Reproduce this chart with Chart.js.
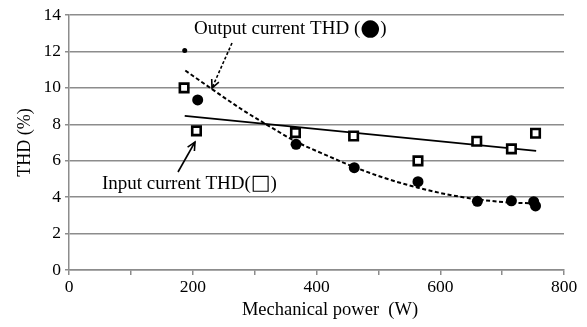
<!DOCTYPE html>
<html>
<head>
<meta charset="utf-8">
<script src="https://cdn.jsdelivr.net/npm/chart.js@4.4.0/dist/chart.umd.min.js"></script>
<style>
  html, body { margin: 0; padding: 0; background: #fff; }
  #wrap { width: 587px; height: 327px; }
</style>
</head>
<body>
<div id="wrap"><canvas id="thdChart" width="587" height="327"></canvas></div>
<script>
// input current THD (squares)
const inputPower = [186, 206, 366, 460, 564, 659, 715, 754]
const inputThd = [10.0, 7.64, 7.54, 7.36, 5.99, 7.07, 6.65, 7.51]

// output current THD (circles), first one is the small dot
const outputPower = [187, 208, 367, 461, 564, 660, 715, 751, 754]
const outputThd = [12.05, 9.34, 6.9, 5.62, 4.85, 3.77, 3.8, 3.75, 3.52]

// trend lines
const inputTrendPower = [187, 755]
const inputTrendThd = [8.46, 6.54]
const outputTrendPower = [188, 229, 280, 319, 367, 420, 459, 510, 564, 610, 660, 710, 750]
const outputTrendThd = [10.95, 9.98, 8.8, 7.99, 7.05, 6.24, 5.68, 5.05, 4.52, 4.16, 3.88, 3.71, 3.66]

const xTicks = [0, 200, 400, 600, 800]
const yTicks = [0, 2, 4, 6, 8, 10, 12, 14]

const labelFont = '"Liberation Serif", "Times New Roman", serif'
const gridGray = '#8c8c8c'

function toPoints(xs, ys){
    return xs.map((x, i) => ({x: x, y: ys[i]}))
}

function arrow(ctx, x1, y1, x2, y2, dashed){
    ctx.save()
    ctx.strokeStyle = '#000'
    ctx.lineWidth = 1.6
    if(dashed) ctx.setLineDash([3, 2])
    ctx.beginPath()
    ctx.moveTo(x1, y1)
    ctx.lineTo(x2, y2)
    ctx.stroke()
    ctx.setLineDash([])
    let a = Math.atan2(y2 - y1, x2 - x1)
    let len = 9
    ctx.beginPath()
    ctx.moveTo(x2 - len * Math.cos(a - 0.45), y2 - len * Math.sin(a - 0.45))
    ctx.lineTo(x2, y2)
    ctx.lineTo(x2 - len * Math.cos(a + 0.45), y2 - len * Math.sin(a + 0.45))
    ctx.stroke()
    ctx.restore()
}

// writes text pieces one after another, each with its own font
function writeParts(ctx, parts, x, y){
    parts.forEach(p => {
        ctx.font = p.font
        ctx.fillText(p.text, x, y + (p.dy || 0))
        x += ctx.measureText(p.text).width
    })
}

const notes = {
    id: 'notes',
    afterDraw(chart){
        const ctx = chart.ctx
        const txt = '19px ' + labelFont
        const sym = '"DejaVu Sans", sans-serif'
        ctx.save()
        ctx.fillStyle = '#000'
        ctx.textBaseline = 'middle'
        ctx.textAlign = 'left'
        writeParts(ctx, [
            {text: 'Output current THD (', font: txt},
            {text: '\u25CF', font: '23px ' + sym, dy: 0},
            {text: ')', font: txt}
        ], 194, 29)
        writeParts(ctx, [
            {text: 'Input current THD(', font: txt},
            {text: '\u25A1', font: 'bold 21px ' + sym, dy: 0},
            {text: ')', font: txt}
        ], 102, 184)

        // x axis title
        ctx.textAlign = 'center'
        ctx.font = '18.5px ' + labelFont
        ctx.fillText('Mechanical power  (W)', 330, 310)
        ctx.restore()

        arrow(ctx, 232, 43, 212, 88, true)
        arrow(ctx, 178, 172, 195, 142, false)
    }
}

new Chart(document.getElementById('thdChart'), {
    type: 'scatter',
    data: {
        datasets: [
            {
                label: 'Input current THD',
                data: toPoints(inputPower, inputThd),
                pointStyle: 'rect',
                pointRadius: 6,
                pointBorderWidth: 2.6,
                pointBackgroundColor: '#fff',
                pointBorderColor: '#000',
                order: 1
            },
            {
                label: 'Output current THD',
                data: toPoints(outputPower, outputThd),
                pointStyle: 'circle',
                pointRadius: ctx => ctx.dataIndex === 0 ? 2.5 : 5.5,
                pointBorderWidth: 0,
                pointBackgroundColor: '#000',
                order: 0
            },
            {
                label: 'Input trend',
                type: 'line',
                data: toPoints(inputTrendPower, inputTrendThd),
                borderColor: '#000',
                borderWidth: 1.8,
                pointRadius: 0,
                order: 3
            },
            {
                label: 'Output trend',
                type: 'line',
                data: toPoints(outputTrendPower, outputTrendThd),
                borderColor: '#000',
                borderWidth: 2,
                borderDash: [4, 2.5],
                pointRadius: 0,
                cubicInterpolationMode: 'monotone',
                order: 2
            }
        ]
    },
    options: {
        responsive: false,
        animation: false,
        layout: { padding: { top: 15, right: 23, left: 0, bottom: 0 } },
        plugins: {
            legend: { display: false },
            tooltip: { enabled: false }
        },
        scales: {
            x: {
                type: 'linear',
                min: 0,
                max: 800,
                afterFit: s => { s.height = 57 },
                afterBuildTicks: s => { s.ticks = [0, 100, 200, 300, 400, 500, 600, 700, 800].map(v => ({value: v})) },
                ticks: {
                    color: '#000',
                    font: { family: labelFont, size: 17.5 },
                    padding: 2,
                    maxRotation: 0,
                    callback: v => xTicks.includes(v) ? String(v) : ''
                },
                grid: { drawOnChartArea: false, color: gridGray, tickLength: 5, lineWidth: 1.5 },
                border: { color: gridGray, width: 1.5 }
            },
            y: {
                min: 0,
                max: 14,
                afterFit: s => { s.width = 69 },
                afterBuildTicks: s => { s.ticks = yTicks.map(v => ({value: v})) },
                ticks: {
                    color: '#000',
                    font: { family: labelFont, size: 17.5 },
                    padding: 4
                },
                grid: { color: gridGray, tickLength: 4, lineWidth: 1.5 },
                border: { color: gridGray, width: 1.5 },
                title: {
                    display: true,
                    text: 'THD (%)',
                    color: '#000',
                    font: { family: labelFont, size: 18 },
                    padding: { top: 14, bottom: 0 }
                }
            }
        }
    },
    plugins: [notes]
})
</script>
</body>
</html>
